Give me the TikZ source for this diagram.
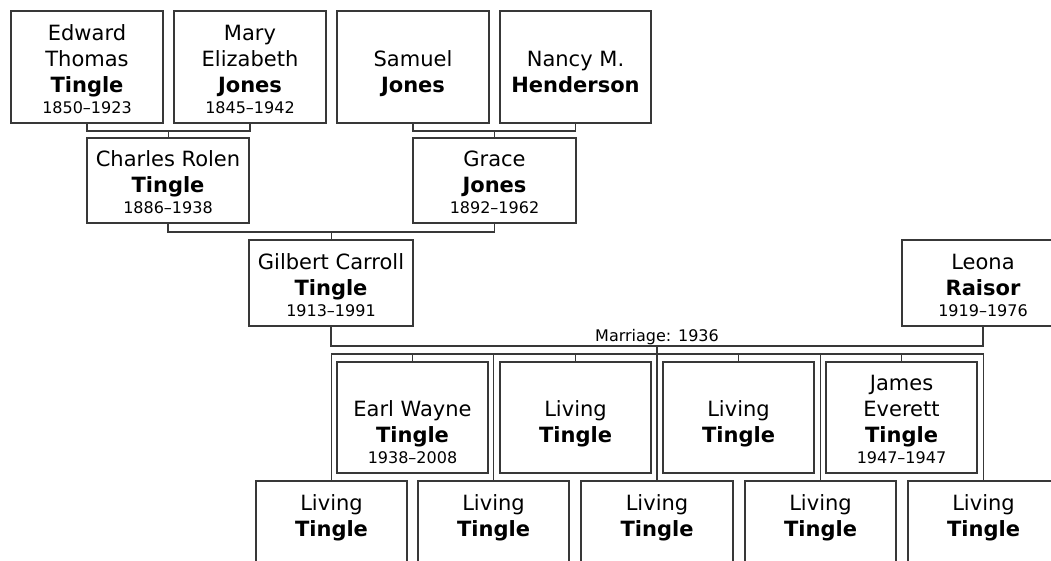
\documentclass[tikz,border=0pt]{standalone}
\usepackage{fontspec}
\setmainfont{DejaVu Sans}
\usetikzlibrary{calc}
\definecolor{ln}{HTML}{383838}
\tikzset{
  x=1pt,y=-1pt,
  pbox/.style={draw=ln, line width=1.3pt, inner sep=0pt, outer sep=0pt, anchor=north west},
  kidbox/.style={pbox, line width=2.1pt},
  conn/.style={draw=ln, line width=1.5pt},
  nm/.style={font=\fontsize{21}{25}\selectfont, anchor=base, inner sep=0pt},
  sn/.style={font=\fontsize{21}{25}\selectfont\bfseries, anchor=base, inner sep=0pt},
  yr/.style={font=\fontsize{16}{19}\selectfont, anchor=base, inner sep=0pt},
}
\newcommand\names[5]{%
  \node[nm] (#1-a) at ($(#1.south)+(0,-83)$) {#2};
  \node[nm] (#1-b) at ($(#1.south)+(0,-57)$) {#3};
  \node[sn] (#1-c) at ($(#1.south)+(0,-31)$) {#4};
  \node[yr] (#1-d) at ($(#1.south)+(0,-10)$) {#5};
}
\begin{document}
\begin{tikzpicture}
\useasboundingbox (0,0) rectangle (1051,560);
% top row
\node[pbox, minimum width=152, minimum height=112] (edw) at (11,11) {};
\node[pbox, minimum width=152, minimum height=112] (mar) at (174,11) {};
\node[pbox, minimum width=152, minimum height=112] (sam) at (337,11) {};
\node[pbox, minimum width=151, minimum height=112] (nan) at (500,11) {};
\names{edw}{Edward}{Thomas}{Tingle}{1850–1923}
\names{mar}{Mary}{Elizabeth}{Jones}{1845–1942}
\names{sam}{}{Samuel}{Jones}{}
\names{nan}{}{Nancy M.}{Henderson}{}
% second row
\node[pbox, minimum width=162, minimum height=85] (cha) at (87,138) {};
\node[pbox, minimum width=163, minimum height=85] (gra) at (413,138) {};
\names{cha}{}{Charles Rolen}{Tingle}{1886–1938}
\names{gra}{}{Grace}{Jones}{1892–1962}
% third row
\node[pbox, minimum width=164, minimum height=86] (gil) at (249,240) {};
\node[pbox, minimum width=162, minimum height=86] (leo) at (902,240) {};
\names{gil}{}{Gilbert Carroll}{Tingle}{1913–1991}
\names{leo}{}{Leona}{Raisor}{1919–1976}
% children (framed)
\node[kidbox, minimum width=151, minimum height=111] (k1) at (337,362) {};
\node[kidbox, minimum width=151, minimum height=111] (k2) at (500,362) {};
\node[kidbox, minimum width=151, minimum height=111] (k3) at (663,362) {};
\node[kidbox, minimum width=151, minimum height=111] (k4) at (826,362) {};
\names{k1}{}{Earl Wayne}{Tingle}{1938–2008}
\names{k2}{}{Living}{Tingle}{}
\names{k3}{}{Living}{Tingle}{}
\names{k4}{James}{Everett}{Tingle}{1947–1947}
% bottom row
\node[pbox, minimum width=151, minimum height=86] (l1) at (256,481) {};
\node[pbox, minimum width=151, minimum height=86] (l2) at (418,481) {};
\node[pbox, minimum width=152, minimum height=86] (l3) at (581,481) {};
\node[pbox, minimum width=151, minimum height=86] (l4) at (745,481) {};
\node[pbox, minimum width=151, minimum height=86] (l5) at (908,481) {};
\names{l1}{}{Living}{Tingle}{}
\names{l2}{}{Living}{Tingle}{}
\names{l3}{}{Living}{Tingle}{}
\names{l4}{}{Living}{Tingle}{}
\names{l5}{}{Living}{Tingle}{}
% connectors
\draw[conn] (edw.south) -- ++(0,8) -| (mar.south);
\coordinate (em) at ($(edw.south)!0.5!(mar.south)+(0,8)$);
\draw[conn] (em) -- (em |- cha.north);
\draw[conn] (sam.south) -- ++(0,8) -| (nan.south);
\coordinate (sn0) at ($(sam.south)!0.5!(nan.south)+(0,8)$);
\draw[conn] (sn0) -- (sn0 |- gra.north);
\draw[conn] (cha.south) -- ++(0,9) -| (gra.south);
\coordinate (cg) at ($(cha.south)!0.5!(gra.south)+(0,9)$);
\draw[conn] (cg) -- (cg |- gil.north);
\draw[conn] (gil.south) -- ++(0,20) -| (leo.south);
\coordinate (mc) at ($(gil.south)!0.5!(leo.south)+(0,20)$);
\node[yr, anchor=base] (mlabel) at ($(mc)+(0,-4.5)$) {Marriage: 1936};
\draw[conn] (mc) -- (mc |- l3.north);
\coordinate (br) at (657,354);
\draw[conn] (l1.north) -- (l1.north |- br) -| (l5.north);
\draw[conn] (l2.north) -- (l2.north |- br);
\draw[conn] (l4.north) -- (l4.north |- br);
\foreach \k in {k1,k2,k3,k4} \draw[conn] (\k.north) -- (\k.north |- br);
\end{tikzpicture}
\end{document}
